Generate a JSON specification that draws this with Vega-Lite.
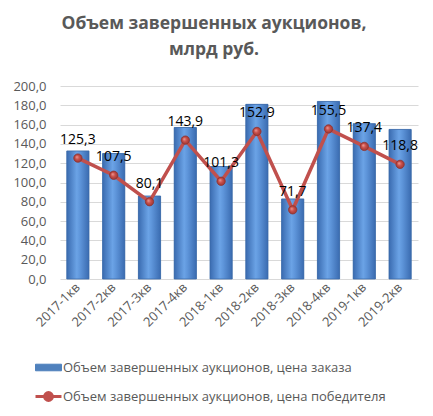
{
  "$schema": "https://vega.github.io/schema/vega-lite/v6.json",
  "autosize": "none",
  "width": 358,
  "height": 193,
  "padding": {"left": 60, "top": 86, "right": 15, "bottom": 137},
  "config": {
    "locale": {"number": {"decimal": ",", "thousands": " ", "grouping": [3], "currency": ["", ""]}},
    "view": {"stroke": null},
    "font": "Open Sans",
    "axisY": {"tickCount": 20}
  },
  "title": {
    "text": ["Объем завершенных  аукционов,", "млрд руб."],
    "font": "Open Sans",
    "fontSize": 17.5,
    "fontWeight": "bold",
    "color": "#595959",
    "anchor": "middle",
    "dx": -25,
    "offset": 22,
    "lineHeight": 26
  },
  "data": {
    "values": [
      {"q": "2017-1кв", "order": 132.7, "winner": 125.3},
      {"q": "2017-2кв", "order": 130.0, "winner": 107.5},
      {"q": "2017-3кв", "order": 86.0, "winner": 80.1},
      {"q": "2017-4кв", "order": 157.0, "winner": 143.9},
      {"q": "2018-1кв", "order": 116.5, "winner": 101.3},
      {"q": "2018-2кв", "order": 181.0, "winner": 152.9},
      {"q": "2018-3кв", "order": 83.0, "winner": 71.7},
      {"q": "2018-4кв", "order": 184.0, "winner": 155.5},
      {"q": "2019-1кв", "order": 161.0, "winner": 137.4},
      {"q": "2019-2кв", "order": 155.0, "winner": 118.8}
    ]
  },
  "encoding": {
    "x": {
      "field": "q", "type": "nominal", "sort": null, "title": null,
      "scale": {"paddingInner": 0.38, "paddingOuter": 0.19},
      "axis": {
        "labelAngle": -45, "labelAlign": "right", "labelBaseline": "middle",
        "labelFontSize": 13, "labelColor": "#595959", "labelPadding": 6,
        "ticks": false, "domain": false, "labelFont": "Open Sans", "labelOverlap": false
      }
    }
  },
  "layer": [
    {
      "mark": {"type": "bar"},
      "encoding": {
        "y": {
          "field": "order", "type": "quantitative", "title": null,
          "scale": {"domain": [0, 200], "nice": false},
          "axis": {
            "values": [0, 20, 40, 60, 80, 100, 120, 140, 160, 180, 200],
            "tickCount": 20,
            "format": ".1f", "labelFontSize": 13, "labelColor": "#595959",
            "labelPadding": 14, "ticks": false, "domain": false, "labelOverlap": false,
            "gridColor": "#D9D9D9", "gridWidth": 1, "labelFont": "Open Sans"
          }
        },
        "color": {
          "datum": "Объем завершенных аукционов, цена заказа",
          "type": "nominal",
          "scale": {
            "domain": ["Объем завершенных аукционов, цена заказа", "Объем завершенных аукционов, цена победителя"],
            "range": ["#4F81BD", "#C0504D"]
          },
          "legend": {
            "title": null,
            "orient": "none",
            "legendX": -18,
            "legendY": 275,
            "direction": "vertical",
            "labelFontSize": 13,
            "labelColor": "#595959",
            "labelFont": "Open Sans",
            "labelLimit": 0,
            "rowPadding": 11,
            "symbolSize": 300,
            "labelOffset": 8,
            "encode": {
              "symbols": {
                "update": {
                  "shape": {"signal": "datum.value === 'Объем завершенных аукционов, цена заказа' ? 'M-1.5,-0.38H1.5V0.38H-1.5Z' : 'M-1.5,0H1.5M0.45,0A0.45,0.45 0 1 1 -0.45,0A0.45,0.45 0 1 1 0.45,0'"},
                  "strokeWidth": {"signal": "datum.value === 'Объем завершенных аукционов, цена заказа' ? 1 : 3"},
                  "stroke": {"signal": "datum.value === 'Объем завершенных аукционов, цена заказа' ? '#3B6AA8' : '#C0504D'"},
                  "fill": {"signal": "datum.value === 'Объем завершенных аукционов, цена заказа' ? '#6A9FE0' : '#C0504D'"},
                  "opacity": {"value": 1}
                }
              }
            }
          }
        }
      }
    },
    {
      "mark": {
        "type": "bar",
        "stroke": "#3B6AA8",
        "strokeWidth": 0.8,
        "color": {
          "gradient": "linear", "x1": 0, "x2": 1, "y1": 0, "y2": 0,
          "stops": [
            {"offset": 0, "color": "#3A6BB0"},
            {"offset": 0.45, "color": "#6BA3E6"},
            {"offset": 0.6, "color": "#5E95DA"},
            {"offset": 1, "color": "#3A6BB0"}
          ]
        }
      },
      "encoding": {
        "y": {"field": "order", "type": "quantitative"}
      }
    },
    {
      "mark": {"type": "line", "strokeWidth": 3.5, "color": "#C0504D"},
      "encoding": {
        "y": {"field": "winner", "type": "quantitative"},
        "color": {"datum": "Объем завершенных аукционов, цена победителя", "type": "nominal"}
      }
    },
    {
      "mark": {
        "type": "point", "filled": true, "size": 70, "opacity": 1,
        "stroke": "#8E3431", "strokeWidth": 0.8,
        "fill": {
          "gradient": "radial", "x1": 0.35, "y1": 0.35, "r1": 0, "x2": 0.5, "y2": 0.5, "r2": 0.5,
          "stops": [
            {"offset": 0, "color": "#F0A09C"},
            {"offset": 0.5, "color": "#C94F4A"},
            {"offset": 1, "color": "#9E3733"}
          ]
        }
      },
      "encoding": {
        "y": {"field": "winner", "type": "quantitative"}
      }
    },
    {
      "mark": {"type": "text", "dy": -18, "fontSize": 14, "color": "#000000", "font": "Open Sans"},
      "encoding": {
        "y": {"field": "winner", "type": "quantitative"},
        "text": {"field": "winner", "type": "quantitative", "format": ".1f"}
      }
    }
  ]
}
